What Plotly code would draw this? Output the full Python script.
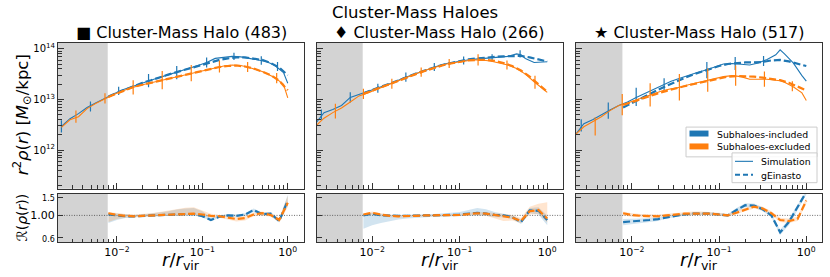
import plotly.graph_objects as go

BLUE = '#1f77b4'
ORANGE = '#ff7f0e'
BLUE_BAND = 'rgba(31,119,180,0.2)'
ORANGE_BAND = 'rgba(255,127,14,0.2)'
FONT = 'DejaVu Sans'

# ---------------- data (log10 values) ----------------
log_r_sim = [-2.65, -2.55, -2.45, -2.35, -2.25, -2.15, -2.05, -1.95, -1.85, -1.75,
             -1.65, -1.55, -1.45, -1.35, -1.25, -1.15, -1.05, -0.95, -0.85, -0.75,
             -0.65, -0.55, -0.45, -0.35, -0.3, -0.25, -0.15, -0.05, 0.0]
log_r_fit = [-2.1, -2.0, -1.9, -1.8, -1.7, -1.6, -1.5, -1.4, -1.3, -1.2, -1.1,
             -1.0, -0.9, -0.8, -0.7, -0.6, -0.5, -0.4, -0.3, -0.2, -0.1, 0.0]

titles = ['■ Cluster-Mass Halo (483)', '♦ Cluster-Mass Halo (266)', '★ Cluster-Mass Halo (517)']
resolution_limit = 0.0078

# Halo 483
p1_incl_sim = [12.47, 12.62, 12.72, 12.84, 12.93, 13.02, 13.10, 13.18, 13.24, 13.30,
               13.36, 13.41, 13.46, 13.51, 13.56, 13.61, 13.67, 13.73, 13.81, 13.83,
               13.85, 13.84, 13.81, 13.79, 13.77, 13.75, 13.67, 13.53, 13.32]
p1_excl_sim = [12.45, 12.60, 12.66, 12.82, 12.92, 13.01, 13.09, 13.16, 13.22, 13.27,
               13.31, 13.35, 13.39, 13.43, 13.47, 13.51, 13.55, 13.59, 13.63, 13.66,
               13.68, 13.67, 13.63, 13.58, 13.55, 13.51, 13.43, 13.30, 13.03]
p1_incl_fit = [13.06, 13.13, 13.20, 13.27, 13.33, 13.38, 13.44, 13.49, 13.54, 13.59, 13.64,
               13.69, 13.74, 13.78, 13.81, 13.83, 13.83, 13.81, 13.78, 13.72, 13.63, 13.48]
p1_excl_fit = [13.05, 13.12, 13.19, 13.25, 13.29, 13.33, 13.37, 13.41, 13.45, 13.49, 13.53,
               13.57, 13.61, 13.64, 13.66, 13.67, 13.65, 13.61, 13.55, 13.48, 13.37, 13.18]
p1_incl_err_r = [-2.65, -2.31, -1.98, -1.63, -1.30, -0.95, -0.63, -0.31, -0.12]
p1_incl_err_v = [12.47, 12.86, 13.17, 13.37, 13.53, 13.73, 13.85, 13.77, 13.65]
p1_incl_err_d = [0.12, 0.10, 0.08, 0.13, 0.13, 0.10, 0.07, 0.085, 0.09]
p1_excl_err_r = [-2.48, -2.14, -1.81, -1.47, -1.13, -0.80, -0.47, -0.13]
p1_excl_err_v = [12.66, 13.02, 13.24, 13.38, 13.52, 13.65, 13.64, 13.42]
p1_excl_err_d = [0.12, 0.10, 0.14, 0.18, 0.16, 0.12, 0.10, 0.10]
p1_incl_ratio = [1.02, 1.00, 0.98, 0.98, 0.99, 1.00, 1.00, 1.01, 1.02, 1.03, 1.03,
                 0.98, 0.90, 0.97, 1.00, 0.99, 1.02, 1.13, 1.03, 1.04, 0.88, 1.40]
p1_excl_ratio = [1.05, 1.01, 0.99, 0.98, 0.99, 1.00, 1.00, 1.02, 1.03, 1.04, 1.04,
                 1.02, 0.99, 0.98, 0.95, 0.92, 0.94, 1.02, 1.05, 1.01, 0.90, 1.33]
p1_incl_lo = [0.84, 0.90, 0.94, 0.96, 0.97, 0.98, 0.98, 0.99, 1.00, 1.00, 1.00,
              0.96, 0.88, 0.94, 0.98, 0.97, 0.99, 1.08, 1.00, 1.00, 0.85, 1.25]
p1_incl_hi = [1.06, 1.04, 1.02, 1.01, 1.02, 1.04, 1.07, 1.10, 1.14, 1.17, 1.18,
              1.10, 0.95, 1.00, 1.03, 1.02, 1.05, 1.17, 1.07, 1.08, 0.92, 1.60]
p1_excl_lo = [0.86, 0.92, 0.95, 0.96, 0.97, 0.98, 0.98, 0.99, 1.00, 1.01, 1.01,
              0.99, 0.96, 0.95, 0.91, 0.87, 0.89, 0.98, 1.00, 0.97, 0.86, 1.20]
p1_excl_hi = [1.08, 1.05, 1.03, 1.02, 1.03, 1.05, 1.08, 1.12, 1.16, 1.19, 1.20,
              1.12, 1.04, 1.01, 0.99, 0.97, 0.99, 1.06, 1.09, 1.05, 0.95, 1.55]

# Halo 266
p2_incl_sim = [12.52, 12.74, 12.80, 12.88, 13.04, 13.10, 13.15, 13.21, 13.27, 13.34,
               13.42, 13.48, 13.55, 13.61, 13.66, 13.71, 13.745, 13.77, 13.79, 13.81,
               13.82, 13.835, 13.85, 13.90, 13.88, 13.81, 13.73, 13.74, 13.745]
p2_excl_sim = [12.47, 12.63, 12.74, 12.83, 12.95, 13.07, 13.13, 13.20, 13.26, 13.33,
               13.41, 13.47, 13.54, 13.60, 13.65, 13.70, 13.73, 13.76, 13.78, 13.78,
               13.76, 13.72, 13.68, 13.61, 13.56, 13.50, 13.35, 13.22, 13.14]
p2_incl_fit = [13.12, 13.19, 13.25, 13.31, 13.38, 13.45, 13.51, 13.57, 13.63, 13.68, 13.72,
               13.76, 13.79, 13.81, 13.83, 13.84, 13.85, 13.86, 13.86, 13.83, 13.79, 13.75]
p2_excl_fit = [13.11, 13.18, 13.24, 13.30, 13.37, 13.44, 13.50, 13.56, 13.62, 13.67, 13.71,
               13.74, 13.77, 13.78, 13.78, 13.76, 13.72, 13.66, 13.57, 13.45, 13.30, 13.15]
p2_incl_err_r = [-2.58, -2.25, -1.935, -1.615, -1.29, -0.955, -0.63, -0.31]
p2_incl_err_v = [12.70, 13.04, 13.22, 13.44, 13.64, 13.77, 13.82, 13.90]
p2_incl_err_d = [0.10, 0.10, 0.09, 0.09, 0.08, 0.08, 0.07, 0.07]
p2_excl_err_r = [-2.42, -2.10, -1.775, -1.44, -1.12, -0.79, -0.46, -0.14]
p2_excl_err_v = [12.77, 13.11, 13.31, 13.54, 13.71, 13.78, 13.68, 13.34]
p2_excl_err_d = [0.145, 0.10, 0.10, 0.09, 0.09, 0.11, 0.09, 0.13]
p2_incl_ratio = [1.00, 1.04, 1.00, 0.99, 0.99, 0.99, 1.00, 1.00, 1.00, 1.00, 1.01,
                 1.02, 1.04, 1.06, 1.04, 1.01, 1.00, 0.96, 0.86, 1.12, 1.11, 0.90]
p2_excl_ratio = [1.02, 1.06, 1.02, 0.99, 0.98, 0.98, 0.99, 1.00, 1.00, 1.00, 1.01,
                 1.01, 1.03, 1.05, 1.04, 1.01, 0.99, 0.95, 0.88, 1.10, 1.13, 0.93]
p2_incl_lo = [0.74, 0.80, 0.84, 0.88, 0.91, 0.93, 0.95, 0.96, 0.97, 0.97, 0.98,
              0.98, 0.99, 1.00, 0.99, 0.96, 0.96, 0.92, 0.82, 1.05, 1.02, 0.80]
p2_incl_hi = [1.02, 1.06, 1.03, 1.01, 1.01, 1.01, 1.02, 1.02, 1.03, 1.04, 1.06,
              1.08, 1.13, 1.18, 1.15, 1.08, 1.04, 1.00, 0.91, 1.18, 1.20, 1.00]
p2_excl_lo = [0.98, 1.02, 0.98, 0.96, 0.95, 0.96, 0.97, 0.98, 0.98, 0.98, 0.99,
              0.99, 1.00, 1.01, 0.99, 0.93, 0.88, 0.89, 0.84, 1.02, 1.03, 0.85]
p2_excl_hi = [1.05, 1.09, 1.05, 1.02, 1.01, 1.01, 1.02, 1.02, 1.02, 1.02, 1.03,
              1.03, 1.06, 1.08, 1.08, 1.05, 1.03, 1.01, 0.94, 1.22, 1.30, 1.35]

# Halo 517
p3_incl_sim = [12.30, 12.52, 12.60, 12.70, 12.79, 12.88, 12.95, 13.04, 13.12, 13.21,
               13.29, 13.36, 13.42, 13.48, 13.53, 13.58, 13.64, 13.70, 13.71, 13.69,
               13.68, 13.72, 13.79, 13.88, 13.98, 13.90, 13.72, 13.47, 13.36]
p3_excl_sim = [12.30, 12.46, 12.56, 12.66, 12.78, 12.88, 12.93, 12.99, 13.05, 13.10,
               13.17, 13.21, 13.24, 13.29, 13.33, 13.37, 13.41, 13.45, 13.47, 13.45,
               13.40, 13.40, 13.40, 13.38, 13.37, 13.34, 13.25, 13.13, 12.98]
p3_incl_fit = [12.84, 12.93, 13.01, 13.10, 13.19, 13.27, 13.35, 13.42, 13.49, 13.55, 13.60,
               13.66, 13.70, 13.72, 13.73, 13.73, 13.74, 13.77, 13.78, 13.75, 13.71, 13.66]
p3_excl_fit = [12.89, 12.95, 13.01, 13.07, 13.12, 13.17, 13.22, 13.26, 13.30, 13.34, 13.38,
               13.42, 13.45, 13.46, 13.46, 13.45, 13.43, 13.41, 13.38, 13.33, 13.26, 13.18]
p3_incl_err_r = [-2.58, -2.27, -1.95, -1.63, -1.14, -0.815, -0.49]
p3_incl_err_v = [12.49, 12.78, 13.05, 13.30, 13.58, 13.71, 13.76]
p3_incl_err_d = [0.12, 0.16, 0.18, 0.12, 0.16, 0.13, 0.10]
p3_excl_err_r = [-2.42, -2.11, -1.79, -1.455, -1.13, -0.81, -0.48, -0.16]
p3_excl_err_v = [12.47, 12.90, 13.09, 13.24, 13.38, 13.47, 13.40, 13.26]
p3_excl_err_d = [0.18, 0.21, 0.23, 0.26, 0.23, 0.20, 0.15, 0.10]
p3_incl_ratio = [0.86, 0.87, 0.88, 0.90, 0.92, 0.96, 0.99, 1.02, 1.04, 1.04, 1.04,
                 1.02, 1.00, 1.13, 1.26, 1.25, 1.15, 1.00, 0.68, 0.86, 1.20, 1.70]
p3_excl_ratio = [1.05, 1.01, 0.99, 0.98, 0.98, 1.00, 1.02, 1.04, 1.04, 1.04, 1.04,
                 1.02, 1.00, 1.06, 1.14, 1.22, 1.17, 1.05, 0.90, 0.88, 0.92, 1.40]
p3_incl_lo = [0.80, 0.82, 0.84, 0.86, 0.88, 0.93, 0.96, 0.99, 1.01, 1.01, 1.01,
              0.99, 0.97, 1.08, 1.20, 1.20, 1.10, 0.96, 0.64, 0.80, 1.12, 1.60]
p3_incl_hi = [0.92, 0.92, 0.93, 0.94, 0.96, 1.00, 1.02, 1.05, 1.07, 1.07, 1.07,
              1.05, 1.03, 1.18, 1.32, 1.31, 1.20, 1.04, 0.72, 0.92, 1.28, 1.75]
p3_excl_lo = [1.00, 0.97, 0.96, 0.95, 0.96, 0.98, 1.00, 1.01, 1.01, 1.01, 1.01,
              0.99, 0.97, 1.02, 1.10, 1.17, 1.12, 1.01, 0.86, 0.84, 0.88, 1.30]
p3_excl_hi = [1.09, 1.05, 1.03, 1.02, 1.02, 1.04, 1.06, 1.08, 1.09, 1.09, 1.08,
              1.06, 1.03, 1.10, 1.19, 1.27, 1.22, 1.10, 0.95, 0.93, 0.97, 1.50]

x_tick_vals = [0.01, 0.1, 1.0]
x_tick_text = ['10<sup>−2</sup>', '10<sup>−1</sup>', '10<sup>0</sup>']
y_tick_vals = [1e12, 1e13, 1e14]
y_tick_text = ['10<sup>12</sup>', '10<sup>13</sup>', '10<sup>14</sup>']
ratio_tick_vals = [0.6, 1.0, 1.5]
ratio_tick_text = ['<span style="font-size:8px">0.6</span>', '1.00',
                   '<span style="font-size:8px">1.5</span>']
legend_groups = ['Subhaloes-included', 'Subhaloes-excluded']
legend_styles = ['Simulation', 'gEinasto']

panels = [
    dict(sim=(p1_incl_sim, p1_excl_sim), fit=(p1_incl_fit, p1_excl_fit),
         err=((p1_incl_err_r, p1_incl_err_v, p1_incl_err_d), (p1_excl_err_r, p1_excl_err_v, p1_excl_err_d)),
         ratio=(p1_incl_ratio, p1_excl_ratio),
         band=((p1_incl_lo, p1_incl_hi), (p1_excl_lo, p1_excl_hi)), xr=[-2.69, 0.19]),
    dict(sim=(p2_incl_sim, p2_excl_sim), fit=(p2_incl_fit, p2_excl_fit),
         err=((p2_incl_err_r, p2_incl_err_v, p2_incl_err_d), (p2_excl_err_r, p2_excl_err_v, p2_excl_err_d)),
         ratio=(p2_incl_ratio, p2_excl_ratio),
         band=((p2_incl_lo, p2_incl_hi), (p2_excl_lo, p2_excl_hi)), xr=[-2.63, 0.18]),
    dict(sim=(p3_incl_sim, p3_excl_sim), fit=(p3_incl_fit, p3_excl_fit),
         err=((p3_incl_err_r, p3_incl_err_v, p3_incl_err_d), (p3_excl_err_r, p3_excl_err_v, p3_excl_err_d)),
         ratio=(p3_incl_ratio, p3_excl_ratio),
         band=((p3_incl_lo, p3_incl_hi), (p3_excl_lo, p3_excl_hi)), xr=[-2.64, 0.18]),
]

# ---------------- layout geometry ----------------
W, H = 830, 277
x_dom_px = [(58, 304), (317, 563), (576, 822)]
top_px = (42, 189)
bot_px = (194, 243)


def ydom(px):
    return [1 - px[1] / H, 1 - px[0] / H]


def px_x(v):
    return v / W


def px_y(v):
    return 1 - v / H


x_minor = [m * 10.0 ** e for e in (-3, -2, -1, 0) for m in range(2, 10)]
y_minor = [m * 10.0 ** e for e in (11, 12, 13) for m in range(2, 10)]

fig = go.Figure()
layout = dict(width=W, height=H, autosize=False,
              margin=dict(l=0, r=0, t=0, b=0),
              paper_bgcolor='white', plot_bgcolor='white',
              font=dict(family=FONT, color='black', size=11),
              showlegend=False)
shapes = []
annotations = []
colors = (BLUE, ORANGE)
bands_c = (BLUE_BAND, ORANGE_BAND)
r_sim = [10 ** v for v in log_r_sim]
r_fit = [10 ** v for v in log_r_fit]

for i, p in enumerate(panels):
    it = i + 1
    ib = i + 4
    xt = 'x' if it == 1 else f'x{it}'
    yt = 'y' if it == 1 else f'y{it}'
    xb, yb = f'x{ib}', f'y{ib}'
    xd = [x_dom_px[i][0] / W, x_dom_px[i][1] / W]
    axcommon = dict(type='log', range=p['xr'], domain=xd, showgrid=False, zeroline=False,
                    showline=True, linecolor='#333', linewidth=1, mirror=True,
                    ticks='inside', ticklen=6, tickwidth=1, tickcolor='#333',
                    tickvals=x_tick_vals, ticktext=x_tick_text,
                    minor=dict(tickvals=x_minor, ticks='inside', ticklen=3.5, tickwidth=0.8,
                               tickcolor='#333', showgrid=False))
    layout['xaxis' if it == 1 else f'xaxis{it}'] = dict(axcommon, anchor=yt, showticklabels=False)
    layout[f'xaxis{ib}'] = dict(axcommon, anchor=yb, showticklabels=True,
                                tickfont=dict(size=11, family=FONT))
    layout['yaxis' if it == 1 else f'yaxis{it}'] = dict(
        type='log', range=[11.24, 14.12], domain=ydom(top_px), anchor=xt,
        showgrid=False, zeroline=False, showline=True, linecolor='#333', linewidth=1, mirror=True,
        ticks='inside', ticklen=6, tickwidth=1, tickcolor='#333',
        tickvals=y_tick_vals, ticktext=y_tick_text, showticklabels=(i == 0),
        tickfont=dict(size=10, family=FONT),
        minor=dict(tickvals=y_minor, ticks='inside', ticklen=3.5, tickwidth=0.8,
                   tickcolor='#333', showgrid=False))
    layout[f'yaxis{ib}'] = dict(
        type='log', range=[-0.265, 0.215], domain=ydom(bot_px), anchor=xb,
        showgrid=False, zeroline=False, showline=True, linecolor='#333', linewidth=1, mirror=True,
        ticks='inside', ticklen=5, tickwidth=1, tickcolor='#333',
        tickvals=ratio_tick_vals, ticktext=ratio_tick_text, showticklabels=(i == 0),
        tickfont=dict(size=11, family=FONT))

    # resolution shading
    for xr_, yr_ in ((xt, yt), (xb, yb)):
        shapes.append(dict(type='rect', xref=xr_, yref=f'{yr_} domain', x0=1e-3, x1=resolution_limit,
                           y0=0, y1=1, fillcolor='#d3d3d3', line=dict(width=0), layer='below'))

    # ratio reference line
    fig.add_trace(go.Scatter(x=[1e-3, 10], y=[1, 1], mode='lines', xaxis=xb, yaxis=yb,
                             line=dict(color='#444', width=0.8, dash='1px,1.5px'), hoverinfo='skip'))

    for k in range(2):
        c = colors[k]
        fig.add_trace(go.Scatter(x=r_sim, y=[10 ** v for v in p['sim'][k]], mode='lines',
                                 xaxis=xt, yaxis=yt, line=dict(color=c, width=1.1)))
        er, ev, ed = p['err'][k]
        fig.add_trace(go.Scatter(
            x=[10 ** v for v in er], y=[10 ** v for v in ev], mode='markers',
            marker=dict(size=0.1, color=c), xaxis=xt, yaxis=yt,
            error_y=dict(type='data', symmetric=False,
                         array=[10 ** (v + d) - 10 ** v for v, d in zip(ev, ed)],
                         arrayminus=[10 ** v - 10 ** (v - d) for v, d in zip(ev, ed)],
                         color=c, thickness=1.2, width=0)))
        fig.add_trace(go.Scatter(x=r_fit, y=[10 ** v for v in p['fit'][k]], mode='lines',
                                 xaxis=xt, yaxis=yt, line=dict(color=c, width=2.2, dash='7px,3px')))
        lo, hi = p['band'][k]
        fig.add_trace(go.Scatter(x=r_fit + r_fit[::-1], y=hi + lo[::-1], mode='lines',
                                 fill='toself', fillcolor=bands_c[k], line=dict(width=0),
                                 xaxis=xb, yaxis=yb, hoverinfo='skip'))
    for k in range(2):
        fig.add_trace(go.Scatter(x=r_fit, y=p['ratio'][k], mode='lines', xaxis=xb, yaxis=yb,
                                 line=dict(color=colors[k], width=2.2, dash='7px,3px')))

    xc = (xd[0] + xd[1]) / 2
    annotations.append(dict(text=titles[i], x=xc, y=px_y(32), xref='paper', yref='paper',
                            showarrow=False, font=dict(size=16, family=FONT),
                            xanchor='center', yanchor='middle'))
    annotations.append(dict(text='<i>r</i>/<i>r</i><sub>vir</sub>', x=xc, y=px_y(262),
                            xref='paper', yref='paper', showarrow=False,
                            font=dict(size=18, family=FONT), xanchor='center', yanchor='middle'))

annotations.append(dict(text='Cluster-Mass Haloes', x=px_x(415), y=px_y(12), xref='paper',
                        yref='paper', showarrow=False, font=dict(size=16.5, family=FONT),
                        xanchor='center', yanchor='middle'))
annotations.append(dict(text='<i>r</i><sup>2</sup><i>ρ</i>(<i>r</i>) [<i>M</i><sub>⊙</sub>/kpc]',
                        x=px_x(22), y=px_y(115), xref='paper', yref='paper', showarrow=False,
                        textangle=-90, font=dict(size=16.5, family=FONT),
                        xanchor='center', yanchor='middle'))
annotations.append(dict(text='ℛ(<i>ρ</i>(<i>r</i>))', x=px_x(22), y=px_y(218), xref='paper',
                        yref='paper', showarrow=False, textangle=-90,
                        font=dict(size=14, family=FONT), xanchor='center', yanchor='middle'))

# ---------------- hand-drawn legends (paper coordinates) ----------------
def rect(x0, y0, x1, y1, fill, line_c=None, lw=0):
    shapes.append(dict(type='rect', xref='paper', yref='paper', x0=px_x(x0), x1=px_x(x1),
                       y0=px_y(y1), y1=px_y(y0), fillcolor=fill,
                       line=dict(color=line_c or fill, width=lw), layer='above'))


def seg(x0, x1, y, color, width, dash='solid'):
    shapes.append(dict(type='line', xref='paper', yref='paper', x0=px_x(x0), x1=px_x(x1),
                       y0=px_y(y), y1=px_y(y), line=dict(color=color, width=width, dash=dash),
                       layer='above'))


def label(text, x, y):
    annotations.append(dict(text=text, x=px_x(x), y=px_y(y), xref='paper', yref='paper',
                            showarrow=False, font=dict(size=9.3, family=FONT),
                            xanchor='left', yanchor='middle'))


rect(686, 127, 817, 157, 'rgba(255,255,255,0.85)', '#cccccc', 1)
rect(689.5, 130.5, 708.5, 136.5, BLUE)
rect(689.5, 143.5, 708.5, 149.5, ORANGE)
label(legend_groups[0], 715, 134)
label(legend_groups[1], 715, 147)
rect(732, 153, 817, 183, 'rgba(255,255,255,0.85)', '#cccccc', 1)
seg(735, 753, 161.5, BLUE, 1.1)
seg(735, 753, 175, BLUE, 2.2, '5px,3px')
label(legend_styles[0], 759, 162)
label(legend_styles[1], 759, 175.5)

layout['shapes'] = shapes
layout['annotations'] = annotations
fig.update_layout(**layout)
fig.write_html('out.html', post_script="document.body.style.margin='0px';",
               config={'displayModeBar': False})
